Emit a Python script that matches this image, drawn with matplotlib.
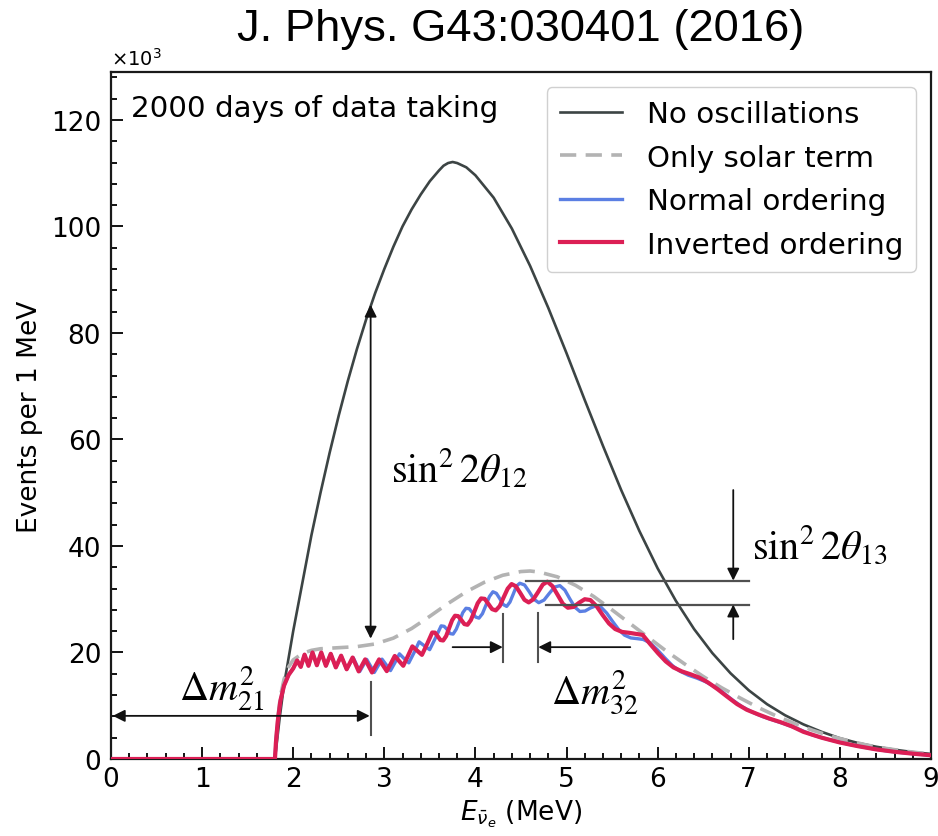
import matplotlib
matplotlib.use("Agg")
import matplotlib.pyplot as plt
from matplotlib.ticker import MultipleLocator

# Reactor antineutrino spectrum, events per 1 MeV (in units of 10^3)
energy_noosc = [0, 1.8, 1.85, 1.9, 2.0, 2.1, 2.2, 2.3, 2.4, 2.5, 2.6, 2.7, 2.8, 2.9,
                3.0, 3.1, 3.2, 3.3, 3.4, 3.5, 3.6, 3.65, 3.7, 3.75, 3.8, 3.9, 4.0, 4.2, 4.4, 4.6,
                4.8, 5.0, 5.2, 5.4, 5.6, 5.8, 6.0, 6.2, 6.4, 6.6, 6.8, 7.0, 7.2, 7.4,
                7.6, 7.8, 8.0, 8.2, 8.4, 8.6, 8.8, 9.0]
events_noosc = [0, 0, 7.5, 14, 24, 33, 42, 50, 57.5, 64.5, 71, 77, 82.5, 87.5,
                92, 96.2, 100, 103.2, 106, 108.5, 110.5, 111.4, 111.9, 112.1, 111.9, 111.1, 109.6,
                105.4, 99.6, 92.6,
                84.7, 76.2, 67.4, 58.8, 50.5, 42.8, 35.8, 29.7, 24.4, 19.9, 16.1, 12.9, 10.3, 8.2,
                6.5, 5.1, 3.9, 3.0, 2.3, 1.75, 1.3, 0.95]

energy_solar = [0, 1.8, 1.81, 1.83, 1.86, 1.9, 1.95, 2.0, 2.1, 2.2, 2.3, 2.5, 2.7, 2.9,
                3.1, 3.3, 3.5, 3.7, 3.9, 4.1, 4.3, 4.5, 4.6, 4.7, 4.9, 5.1, 5.3, 5.5,
                5.7, 5.9, 6.1, 6.3, 6.5, 6.7, 6.9, 7.1, 7.3, 7.5, 7.7, 7.9, 8.1, 8.3,
                8.5, 8.7, 9.0]
events_solar = [0, 0, 3.2, 7.5, 11.8, 15.0, 17.3, 18.6, 19.8, 20.4, 20.7, 20.9, 21.1, 21.6,
                22.7, 24.5, 26.8, 29.2, 31.4, 33.2, 34.5, 35.2, 35.3, 35.1, 34.2, 32.6, 30.5, 28.0,
                25.4, 22.8, 20.2, 17.8, 15.5, 13.4, 11.5, 9.7, 8.1, 6.7, 5.4, 4.3, 3.4, 2.6,
                2.0, 1.5, 0.9]

energy_io = [0, 1.80, 1.81, 1.83, 1.86, 1.90, 1.95, 2.00,
             2.043, 2.083, 2.125, 2.168, 2.212, 2.26, 2.308, 2.359, 2.412, 2.468, 2.526, 2.587,
             2.652, 2.719, 2.79, 2.865, 2.943, 3.027, 3.071, 3.115, 3.162, 3.208, 3.258, 3.308,
             3.36, 3.413, 3.47, 3.526, 3.556, 3.586, 3.616, 3.646, 3.679, 3.711, 3.744, 3.776,
             3.81, 3.845, 3.879, 3.913, 3.95, 3.988, 4.025, 4.062, 4.102, 4.143, 4.183, 4.223,
             4.267, 4.31, 4.354, 4.397, 4.444, 4.491, 4.538, 4.585, 4.636, 4.688, 4.739, 4.79,
             4.846, 4.903, 4.959, 5.015, 5.077, 5.139, 5.2, 5.262, 5.33, 5.398, 5.466, 5.534,
             5.61, 5.685, 5.761, 5.836, 5.92, 6.005, 6.089, 6.173, 6.267, 6.362, 6.456, 6.55,
             6.657, 6.764, 6.871, 6.978, 7.101, 7.224, 7.347, 7.47, 7.6, 7.8, 8.0, 8.2,
             8.4, 8.6, 8.8, 9.0]
events_io = [0, 0, 3.0, 7.0, 11.0, 13.8, 15.8, 17.0,
             18.5, 17.3, 19.6, 17.5, 20.0, 17.6, 20.0, 17.5, 19.75, 17.2, 19.4, 16.85,
             19.05, 16.45, 18.7, 16.25, 18.7, 16.5, 17.9, 19.35, 18.4, 17.5, 19.3, 21.15,
             20.35, 19.55, 21.6, 23.75, 23.73, 23.05, 22.34, 22.25, 23.09, 24.55, 26.05, 26.9,
             26.83, 26.1, 25.33, 25.2, 26.08, 27.65, 29.25, 30.15, 30.07, 29.1, 28.14, 27.9,
             28.71, 30.35, 31.98, 32.85, 32.43, 31.2, 29.89, 29.4, 29.99, 31.35, 32.75, 33.3,
             32.45, 30.8, 29.16, 28.4, 28.56, 29.35, 30.0, 29.85, 28.69, 27.0, 25.45, 24.4,
             23.86, 23.7, 23.5, 23.3, 21.54, 19.85, 18.33, 17.2, 16.44, 15.9, 15.29, 14.4,
             13.12, 11.7, 10.32, 9.25, 8.39, 7.6, 6.93, 6.15, 5.1, 4.0, 3.1, 2.4,
             1.8, 1.35, 1.0, 0.7]

energy_no = [0, 1.80, 1.81, 1.83, 1.86, 1.90, 1.95, 2.00,
             2.043, 2.083, 2.125, 2.168, 2.212, 2.26, 2.308, 2.359, 2.412, 2.468, 2.526, 2.587,
             2.659, 2.73, 2.807, 2.89, 2.975, 3.068, 3.117, 3.166, 3.218, 3.269, 3.326, 3.382,
             3.44, 3.498, 3.561, 3.624, 3.657, 3.69, 3.722, 3.755, 3.79, 3.826, 3.861, 3.896,
             3.932, 3.968, 4.003, 4.039, 4.077, 4.116, 4.154, 4.192, 4.23, 4.268, 4.305, 4.343,
             4.379, 4.415, 4.451, 4.487, 4.539, 4.591, 4.643, 4.695, 4.753, 4.811, 4.869, 4.927,
             4.982, 5.037, 5.092, 5.147, 5.204, 5.262, 5.319, 5.376, 5.441, 5.507, 5.572, 5.637,
             5.706, 5.775, 5.843, 5.912, 5.995, 6.078, 6.161, 6.244, 6.337, 6.429, 6.522, 6.614,
             6.719, 6.824, 6.928, 7.033, 7.155, 7.277, 7.398, 7.52, 7.7, 7.9, 8.1, 8.3,
             8.5, 8.7, 9.0]
events_no = [0, 0, 3.0, 7.0, 11.0, 13.8, 15.8, 17.0,
             18.5, 17.3, 19.6, 17.5, 20.0, 17.6, 20.0, 17.5, 19.75, 17.2, 19.4, 16.85,
             19.03, 16.43, 18.7, 16.25, 18.75, 16.6, 18.1, 19.75, 18.85, 18.05, 19.95, 22.0,
             21.25, 20.53, 22.7, 25.0, 24.91, 24.3, 23.55, 23.45, 24.37, 25.9, 27.47, 28.3,
             28.22, 27.45, 26.65, 26.45, 27.28, 28.9, 30.51, 31.4, 31.11, 30.1, 29.01, 28.65,
             29.46, 30.95, 32.48, 33.0, 32.68, 31.4, 29.99, 29.35, 29.84, 31.1, 32.28, 32.55,
             31.71, 30.05, 28.5, 27.7, 27.79, 28.35, 28.75, 28.55, 27.4, 25.8, 24.31, 23.25,
             22.73, 22.6, 22.44, 21.85, 20.55, 19.0, 17.55, 16.5, 15.73, 15.2, 14.55, 13.7,
             12.45, 11.05, 9.8, 8.85, 7.95, 7.25, 6.56, 5.8, 4.5, 3.55, 2.75, 2.1,
             1.55, 1.15, 0.7]

series_labels = ["No oscillations", "Only solar term", "Normal ordering", "Inverted ordering"]

fig = plt.figure(figsize=(9.38, 8.37), dpi=100)
ax = fig.add_axes([0.1183, 0.0920, 0.8742, 0.8208])

ax.plot(energy_noosc, events_noosc, color="#3c4444", lw=1.9, label=series_labels[0], zorder=3)
ax.plot(energy_solar, events_solar, color="#b3b3b3", lw=2.6, ls=(0, (4.5, 2.6)),
        label=series_labels[1], zorder=3)
ax.plot(energy_no, events_no, color="#5b7fe3", lw=2.4, label=series_labels[2], zorder=4)
ax.plot(energy_io, events_io, color="#dc1f55", lw=3.0, label=series_labels[3], zorder=5)

ax.set_xlim(0, 9)
ax.set_ylim(0, 129)
ax.xaxis.set_major_locator(MultipleLocator(1))
ax.xaxis.set_minor_locator(MultipleLocator(0.2))
ax.yaxis.set_major_locator(MultipleLocator(20))
ax.yaxis.set_minor_locator(MultipleLocator(4))
ax.tick_params(which="both", direction="in", labelsize=19, width=1.3)
ax.tick_params(axis="x", pad=5)
ax.tick_params(axis="y", pad=7)
ax.tick_params(which="major", length=8.5)
ax.tick_params(which="minor", length=4)
for sp in ax.spines.values():
    sp.set_linewidth(1.6)
    sp.set_color("#1a1a1a")

ax.set_ylabel("Events per 1 MeV", fontsize=19, labelpad=6)
ax.set_xlabel(r"$E_{\bar{\nu}_e}$ (MeV)", fontsize=19, labelpad=4)
ax.text(0.0, 1.004, r"$\times10^{3}$", transform=ax.transAxes, fontsize=14,
        ha="left", va="bottom")
ax.text(0.22, 122.3, "2000 days of data taking", fontsize=21.2, ha="left", va="center")

leg = ax.legend(loc="upper right", fontsize=21.2, labelspacing=0.53, handlelength=2.1,
                handletextpad=0.85, borderaxespad=0.5, borderpad=0.45,
                fancybox=True, framealpha=1.0, edgecolor="#d0d0d0")
leg.get_frame().set_linewidth(1.0)

# annotation arrows and guide lines
arrow_kw = dict(color="#111111", lw=1.3, shrinkA=0, shrinkB=0, mutation_scale=18)
ann = "#505050"
math_size = 29

# sin^2 2theta_12 : vertical double arrow
ax.annotate("", xy=(2.85, 85.3), xytext=(2.85, 22.6),
            arrowprops=dict(arrowstyle="<|-|>", **arrow_kw), zorder=6)
ax.text(3.07, 54.5, r"$\sin^2 2\theta_{12}$", fontsize=math_size, math_fontfamily="stix",
        ha="left", va="center")

# Delta m^2_21 : horizontal double arrow
ax.annotate("", xy=(0.02, 8.1), xytext=(2.84, 8.1),
            arrowprops=dict(arrowstyle="<|-|>", **arrow_kw), zorder=6)
ax.plot([2.85, 2.85], [4.5, 14.5], color=ann, lw=1.5, zorder=6)
ax.text(1.22, 13.4, r"$\Delta m^2_{21}$", fontsize=math_size, math_fontfamily="stix",
        ha="center", va="center")

# Delta m^2_32 : period marker
ax.plot([4.30, 4.30], [18.2, 27.3], color=ann, lw=1.5, zorder=6)
ax.plot([4.69, 4.69], [18.2, 27.5], color=ann, lw=1.5, zorder=6)
ax.annotate("", xy=(4.30, 21.0), xytext=(3.75, 21.0),
            arrowprops=dict(arrowstyle="-|>", **arrow_kw), zorder=6)
ax.annotate("", xy=(4.69, 21.0), xytext=(5.70, 21.0),
            arrowprops=dict(arrowstyle="-|>", **arrow_kw), zorder=6)
ax.text(5.31, 12.6, r"$\Delta m^2_{32}$", fontsize=math_size, math_fontfamily="stix",
        ha="center", va="center")

# sin^2 2theta_13 : amplitude marker
ax.plot([4.55, 7.0], [33.5, 33.5], color=ann, lw=1.6, zorder=6)
ax.plot([4.77, 7.0], [29.0, 29.0], color=ann, lw=1.6, zorder=6)
ax.annotate("", xy=(6.83, 33.5), xytext=(6.83, 50.5),
            arrowprops=dict(arrowstyle="-|>", **arrow_kw), zorder=6)
ax.annotate("", xy=(6.83, 29.0), xytext=(6.83, 22.5),
            arrowprops=dict(arrowstyle="-|>", **arrow_kw), zorder=6)
ax.text(7.04, 40.2, r"$\sin^2 2\theta_{13}$", fontsize=math_size, math_fontfamily="stix",
        ha="left", va="center")

fig.text(0.5554, 1 - 30 / 837, "J. Phys. G43:030401 (2016)", family="Liberation Sans",
         fontsize=32.7, ha="center", va="center")

fig.savefig("out.png", dpi=100)
